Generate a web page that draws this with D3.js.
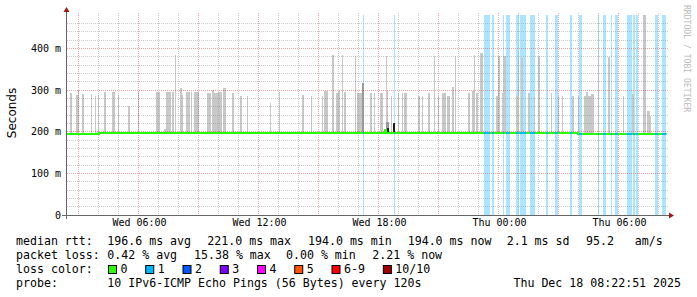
<!DOCTYPE html>
<html>
<head>
<script src="https://d3js.org/d3.v7.min.js"></script>
<style>
  body { margin: 0; background: #fff; }
  svg text { font-family: "DejaVu Sans Mono", monospace; }
</style>
</head>
<body>
<div id="chart"></div>
<script>

// time is counted in hours from Wed 00:00 (Thu 00:00 = 24)
var startHour = 2.381, endHour = 32.381;

var xTicks = [6, 12, 18, 24, 30];
var xTickLabels = ["Wed 06:00", "Wed 12:00", "Wed 18:00", "Thu 00:00", "Thu 06:00"];
var yTicks = [0, 100, 200, 300, 400];
var yTickLabels = ["0", "100 m", "200 m", "300 m", "400 m"];

// median rtt, step values [hour, ms]
var medianSteps = [
  [2.381, 194.0], [4.0, 196.5], [12.5, 198.0], [12.65, 196.5],
  [18.3, 205.0], [18.35, 196.5],
  [27.95, 195.5], [28.45, 193.5], [32.381, 193.5]
];

// smoke spikes [hour, max ms, minutes]
var smokeSpikes = [
  [2.55, 292, 6], [2.85, 287, 6], [2.95, 300, 3], [3.15, 290, 6], [3.6, 290, 3],
  [3.8, 285, 3], [3.95, 287, 3], [4.25, 295, 6], [4.65, 295, 9], [4.95, 287, 3],
  [5.45, 261, 6], [5.95, 295, 3], [6.85, 295, 12], [7.25, 206, 6], [7.35, 295, 15],
  [7.65, 295, 6], [7.8, 383, 3], [8.05, 304, 6], [8.15, 287, 3], [8.35, 295, 12],
  [8.6, 295, 3], [8.75, 295, 15], [9.4, 292, 12], [9.65, 301, 6], [9.75, 292, 12],
  [9.95, 295, 12], [10.2, 304, 9], [10.65, 292, 6], [11.05, 285, 6], [11.4, 285, 3],
  [12.55, 268, 3], [13.0, 295, 3], [14.15, 287, 6], [14.6, 285, 3], [15.15, 285, 3],
  [15.25, 297, 12], [15.65, 383, 6], [15.85, 292, 6], [15.95, 298, 6], [16.15, 383, 3],
  [16.25, 295, 6], [16.8, 381, 3], [16.9, 292, 15], [17.55, 292, 6], [17.75, 292, 3],
  [18.05, 292, 9], [18.35, 298, 6], [18.35, 381, 3], [18.6, 285, 3], [18.95, 292, 3],
  [19.15, 292, 3], [19.25, 292, 9], [19.95, 285, 6], [20.15, 285, 3], [20.45, 292, 6],
  [20.75, 381, 3], [20.95, 285, 3], [21.15, 292, 12], [21.4, 285, 9], [21.65, 307, 6],
  [21.8, 381, 3], [22.45, 292, 6], [22.65, 298, 6], [22.75, 383, 3], [22.85, 292, 6],
  [23.05, 388, 9], [23.85, 285, 6], [23.95, 381, 6], [24.15, 292, 3], [24.2, 381, 9],
  [24.85, 285, 6], [24.95, 381, 3], [25.1, 376, 6], [25.45, 292, 6], [25.75, 285, 3],
  [25.95, 381, 6], [26.6, 292, 3], [26.95, 285, 3], [27.15, 285, 3], [27.65, 285, 6],
  [27.95, 285, 3], [28.25, 285, 6], [28.35, 295, 6], [28.45, 285, 9], [28.6, 290, 9],
  [28.95, 381, 3], [29.45, 380, 6], [30.2, 285, 3], [30.65, 290, 6], [31.2, 480, 9],
  [31.4, 249, 9], [31.55, 238, 3]
];

// denser smoke [hour, low ms, high ms, minutes]
var midSmoke = [[17.15, 196, 316, 6], [18.35, 196, 223, 9]];
var darkSmoke = [[18.4, 194, 208, 6], [18.7, 194, 220, 6]];

// intervals with one lost ping [hour, minutes]
var lossBars = [
  [17.2, 3], [18.75, 3], [23.25, 18], [23.65, 6], [24.2, 3], [24.35, 12],
  [24.85, 9], [25.05, 18], [25.55, 15], [26.35, 6], [26.8, 9], [27.55, 6],
  [28.0, 9], [28.95, 3], [29.2, 9], [29.6, 3], [29.8, 9], [30.4, 15],
  [30.7, 6], [30.85, 6], [31.8, 9], [32.15, 12]
];

var rttStats = ["196.6 ms avg", "221.0 ms max", "194.0 ms min", "194.0 ms now", "2.1 ms sd", "95.2   am/s"];
var lossStats = ["0.42 % avg", "15.38 % max", "0.00 % min", "2.21 % now"];
var lossLabels = ["0", "1", "2", "3", "4", "5", "6-9", "10/10"];
var lossColors = ["#26ff00", "#00b8ff", "#0059ff", "#7e00ff", "#ff00ff", "#ff5500", "#ff0000", "#a10000"];
var probeText = "10 IPv6-ICMP Echo Pings (56 Bytes) every 120s";
var dateText = "Thu Dec 18 08:22:51 2025";


var svg = d3.select("#chart").append("svg")
  .attr("width", 697)
  .attr("height", 297)
  .style("display", "block");

var x = d3.scaleLinear().domain([startHour, endHour]).range([66.6, 666.6]);
var y = d3.scaleLinear().domain([0, 480]).range([215.1, 15]);

var px = v => Math.round(v);
var crisp = v => Math.floor(v) + 0.5;

// loss background bars
svg.append("g").selectAll("rect")
  .data(lossBars)
  .join("rect")
  .attr("x", d => px(x(d[0])))
  .attr("width", d => Math.max(1, px(x(d[0] + d[1] / 60)) - px(x(d[0]))))
  .attr("y", px(y(480)))
  .attr("height", px(y(0)) - px(y(480)))
  .attr("fill", "#aae6ff");

// smoke
function smokeRects(data, color) {
  svg.append("g").selectAll("rect")
    .data(data)
    .join("rect")
    .attr("x", d => px(x(d[0])))
    .attr("width", d => Math.max(1, px(x(d[0] + d[d.length - 1] / 60)) - px(x(d[0]))))
    .attr("y", d => px(y(d.length == 4 ? d[2] : d[1])))
    .attr("height", d => px(y(d.length == 4 ? d[1] : 195)) - px(y(d.length == 4 ? d[2] : d[1])))
    .attr("fill", color);
}
smokeRects(smokeSpikes, "#c8c8c8");
smokeRects(midSmoke, "#9a9a9a");
smokeRects(darkSmoke, "#1e1e1e");

// grid
var grid = svg.append("g");
var minorY = d3.range(20, 480, 20).filter(v => v % 100 != 0);
var majorY = d3.range(100, 480, 100);
var hours = d3.range(3, 33);

grid.selectAll(".hy").data(minorY).join("line")
  .attr("x1", 67).attr("x2", 668)
  .attr("y1", d => crisp(y(d))).attr("y2", d => crisp(y(d)))
  .attr("stroke", "rgba(140,140,140,0.45)").attr("stroke-dasharray", "1,1");
grid.selectAll(".vx").data(hours.filter(h => h % 3 != 0)).join("line")
  .attr("x1", d => crisp(x(d))).attr("x2", d => crisp(x(d)))
  .attr("y1", 13).attr("y2", 215)
  .attr("stroke", "rgba(140,140,140,0.45)").attr("stroke-dasharray", "1,1");
grid.selectAll(".my").data(majorY).join("line")
  .attr("x1", 67).attr("x2", 668)
  .attr("y1", d => crisp(y(d))).attr("y2", d => crisp(y(d)))
  .attr("stroke", "rgba(210,40,40,0.42)").attr("stroke-dasharray", "1,1");
grid.selectAll(".mx").data(hours.filter(h => h % 3 == 0)).join("line")
  .attr("x1", d => crisp(x(d))).attr("x2", d => crisp(x(d)))
  .attr("y1", 13).attr("y2", 215)
  .attr("stroke", "rgba(210,40,40,0.42)").attr("stroke-dasharray", "1,1");

// median line
var medianLine = d3.line()
  .x(d => x(d[0]))
  .y(d => px(y(d[1])))
  .curve(d3.curveStepAfter);

svg.append("path")
  .datum(medianSteps)
  .attr("d", medianLine)
  .attr("fill", "none")
  .attr("stroke", lossColors[0])
  .attr("stroke-width", 2);

var medianAt = function (h) {
  var i = d3.bisector(d => d[0]).right(medianSteps, h) - 1;
  return medianSteps[Math.max(0, i)][1];
};

svg.append("g").selectAll("line")
  .data(lossBars)
  .join("line")
  .attr("x1", d => px(x(d[0])))
  .attr("x2", d => Math.max(px(x(d[0])) + 1, px(x(d[0] + d[1] / 60))))
  .attr("y1", d => px(y(medianAt(d[0] + 0.01))))
  .attr("y2", d => px(y(medianAt(d[0] + 0.01))))
  .attr("stroke", lossColors[1])
  .attr("stroke-width", 2);

// axes lines and arrows
svg.append("line")
  .attr("x1", 62).attr("x2", 670).attr("y1", 215.5).attr("y2", 215.5)
  .attr("stroke", "#666");
svg.append("line")
  .attr("x1", 66.5).attr("x2", 66.5).attr("y1", 219).attr("y2", 10)
  .attr("stroke", "#666");
svg.append("path")
  .attr("d", "M669,212.5 L674,215.5 L669,218.5 Z")
  .attr("fill", "#a01818");
svg.append("path")
  .attr("d", "M63.5,12 L66.5,7 L69.5,12 Z")
  .attr("fill", "#a01818");

// tick labels
var xAxis = svg.append("g")
  .attr("transform", "translate(0,219)")
  .call(d3.axisBottom(x).tickValues(xTicks).tickSize(0).tickPadding(0)
    .tickFormat((d, i) => xTickLabels[i]));
xAxis.select(".domain").remove();
xAxis.selectAll("text")
  .attr("dy", "0.71em")
  .style("font-family", "DejaVu Sans Mono")
  .style("font-size", "10px")
  .attr("fill", "#000");

var yAxis = svg.append("g")
  .attr("transform", "translate(61,0)")
  .call(d3.axisLeft(y).tickValues(yTicks).tickSize(0).tickPadding(0)
    .tickFormat((d, i) => yTickLabels[i]));
yAxis.select(".domain").remove();
yAxis.selectAll("text")
  .style("font-family", "DejaVu Sans Mono")
  .style("font-size", "10px")
  .attr("fill", "#000");

// y axis title
svg.append("text")
  .attr("transform", "translate(15.5,113) rotate(-90)")
  .attr("text-anchor", "middle")
  .style("font-family", "DejaVu Sans")
  .style("font-size", "12px")
  .text("Seconds");

// watermark
svg.append("text")
  .attr("transform", "translate(684,5) rotate(90)")
  .style("font-size", "8.1px")
  .attr("fill", "#bbb")
  .text("RRDTOOL / TOBI OETIKER");

// legend
var legend = svg.append("g").style("font-size", "11.6px").attr("fill", "#000");
var rowY = [244.5, 258.7, 272.8, 287.2];
var rowLabels = ["median rtt:", "packet loss:", "loss color:", "probe:"];

legend.selectAll(".lab").data(rowLabels).join("text")
  .attr("x", 16).attr("y", (d, i) => rowY[i])
  .text(d => d);

// each value is printed on its own, as rrdtool places them
var rttX = [107.3, 207.3, 308, 407.7, 506.7, 586];
legend.selectAll(".rtt").data(rttStats).join("text")
  .attr("x", (d, i) => rttX[i]).attr("y", rowY[0])
  .attr("xml:space", "preserve")
  .text(d => d);

var lossX = [107.3, 194, 286, 372.3];
legend.selectAll(".loss").data(lossStats).join("text")
  .attr("x", (d, i) => lossX[i]).attr("y", rowY[1])
  .text(d => d);

var bx = 108.5;
lossLabels.forEach(function (lab, i) {
  legend.append("rect")
    .attr("x", bx).attr("y", 265.5).attr("width", 8).attr("height", 8)
    .attr("fill", lossColors[i]).attr("stroke", "#000").attr("stroke-width", 1);
  legend.append("text").attr("x", bx + 12).attr("y", rowY[2]).text(lab);
  bx += 12 + lab.length * 7.05 + 18.2;
});

legend.append("text").attr("x", 107.3).attr("y", rowY[3]).text(probeText);
legend.append("text").attr("x", 681).attr("y", rowY[3]).attr("text-anchor", "end").text(dateText);

</script>
</body>
</html>
